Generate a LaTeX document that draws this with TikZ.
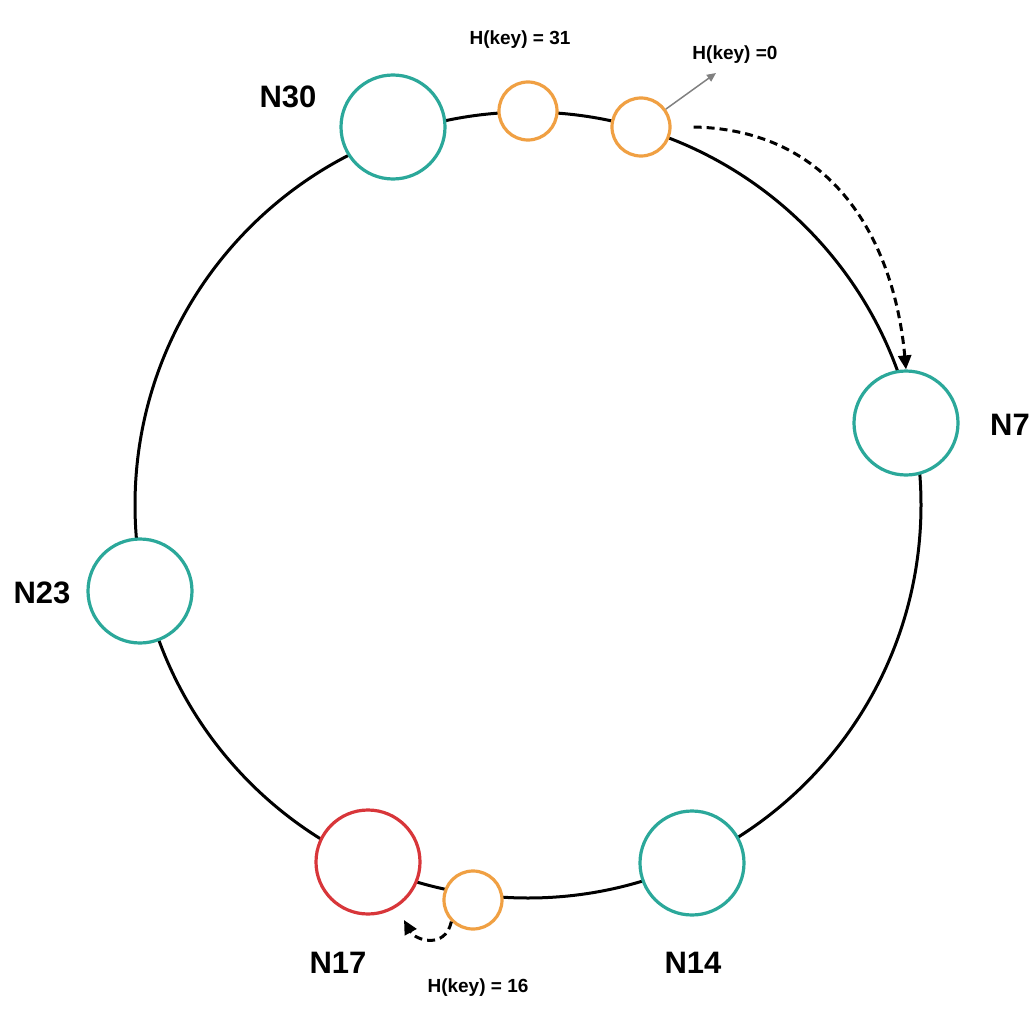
\documentclass[tikz,border=0pt]{standalone}
\usepackage{fontspec}
\setmainfont{Liberation Sans}
\usetikzlibrary{arrows.meta}
\definecolor{teal1}{HTML}{2BA89A}
\definecolor{orng}{HTML}{F0A043}
\definecolor{red1}{HTML}{D8363A}
\begin{document}
\begin{tikzpicture}[x=1pt,y=-1pt,
  big/.style={circle,draw=teal1,line width=3.2pt,fill=white,minimum size=104pt,inner sep=0},
  sm/.style={circle,draw=orng,line width=3.2pt,fill=white,minimum size=58pt,inner sep=0},
  lab/.style={font=\bfseries\fontsize{31}{36}\selectfont},
  hk/.style={font=\bfseries\fontsize{19}{22}\selectfont},
  dasharr/.style={line width=3pt,dash pattern=on 8pt off 5pt,-{Triangle[length=14pt,width=13pt]}}]
\useasboundingbox (0,0) rectangle (1036,1014);
\node[circle,draw,line width=3pt,minimum size=786pt,inner sep=0] (ring) at (528,505) {};
\node[big] (n30) at (393,127) {};
\node[big] (n7) at (906,423) {};
\node[big] (n23) at (140,591) {};
\node[big] (n14) at (692,863) {};
\node[big,draw=red1] (n17) at (368,862) {};
\node[sm] (k31) at (528,111) {};
\node[sm] (k0) at (641,127) {};
\node[sm] (k16) at (473,900) {};
\node[lab] (l30) at (288,97) {N30};
\node[lab] (l7) at (1010,425) {N7};
\node[lab] (l23) at (42,593) {N23};
\node[lab] (l14) at (693,963) {N14};
\node[lab] (l17) at (338,963) {N17};
\node[hk] (h31) at (520,40) {H(key) = 31};
\node[hk] (h0) at (735,55) {H(key) =0};
\node[hk] (h16) at (478,988) {H(key) = 16};
\coordinate (g) at (716,73);
\draw[gray,line width=1.5pt,-{Triangle[length=9pt,width=8pt]}] (k0) -- (g);
\draw[dasharr] ([xshift=22pt]k0.east) .. controls (840,130) and (895,250) .. (n7.north);
\draw[dasharr] (k16.south west) .. controls (445,950) and (415,940) .. (404,920);
\end{tikzpicture}
\end{document}
